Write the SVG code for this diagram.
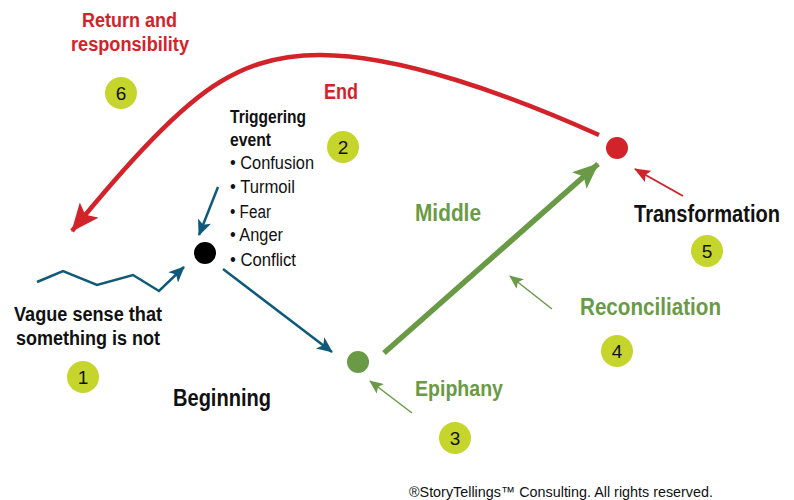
<svg xmlns="http://www.w3.org/2000/svg" width="794" height="500" viewBox="0 0 794 500">
  <style>
    .t { font-family: "Liberation Sans Narrow", "Liberation Sans", Arial, sans-serif; }
    .b { font-weight: bold; }
    .red { fill: #d2232a; }
    .grn { fill: #6a9a45; }
    .blk { fill: #111; }
    .num { font-family: "Liberation Sans Narrow", "Liberation Sans", Arial, sans-serif; font-size: 19px; fill: #111; text-anchor: middle; }
    .badge { fill: #c6d52c; }
    .blue { stroke: #0f5a78; fill: none; stroke-width: 2.5; }
  </style>
  <defs>
    <marker id="hBlue" markerUnits="userSpaceOnUse" viewBox="0 0 16 14" refX="15" refY="7" markerWidth="16" markerHeight="14" orient="auto">
      <path d="M0,0 L16,7 L0,14 L4,7 Z" fill="#0f5a78"/>
    </marker>
    <marker id="hRedBig" markerUnits="userSpaceOnUse" viewBox="0 0 28 24" refX="27" refY="12" markerWidth="28" markerHeight="24" orient="auto">
      <path d="M0,0 L28,12 L0,24 L6,12 Z" fill="#d2232a"/>
    </marker>
    <marker id="hGrnBig" markerUnits="userSpaceOnUse" viewBox="0 0 26 22" refX="25" refY="11" markerWidth="26" markerHeight="22" orient="auto">
      <path d="M0,0 L26,11 L0,22 L6,11 Z" fill="#6a9a45"/>
    </marker>
    <marker id="hGrn" markerUnits="userSpaceOnUse" viewBox="0 0 14 12" refX="13" refY="6" markerWidth="14" markerHeight="12" orient="auto">
      <path d="M0,0 L14,6 L0,12 L3,6 Z" fill="#6a9a45"/>
    </marker>
    <marker id="hRed" markerUnits="userSpaceOnUse" viewBox="0 0 16 13" refX="15" refY="6.5" markerWidth="16" markerHeight="13" orient="auto">
      <path d="M0,0 L16,6.5 L0,13 L3,6.5 Z" fill="#d2232a"/>
    </marker>
  </defs>

  <rect width="794" height="500" fill="#fff"/>

  <!-- connectors -->
  <g id="connectors">
    <path d="M599,135 C510,95 400,55 320,55 C270,55 240,70 220,82 C180,106 130,160 72,231" stroke="#d2232a" stroke-width="4.5" fill="none" marker-end="url(#hRedBig)"/>
    <path d="M37,282 L63,271 L97,285 L133,275 L159,291 L184,267" class="blue" marker-end="url(#hBlue)"/>
    <line x1="218" y1="187" x2="199" y2="235" class="blue" stroke-width="2" marker-end="url(#hBlue)"/>
    <line x1="223" y1="269" x2="332" y2="352" class="blue" marker-end="url(#hBlue)"/>
    <line x1="384" y1="353" x2="598" y2="164" stroke="#6a9a45" stroke-width="5.5" marker-end="url(#hGrnBig)"/>
    <line x1="412" y1="413" x2="370" y2="381" stroke="#6a9a45" stroke-width="1.5" marker-end="url(#hGrn)"/>
    <line x1="552" y1="309" x2="510" y2="276" stroke="#6a9a45" stroke-width="1.5" marker-end="url(#hGrn)"/>
    <line x1="683" y1="196" x2="635" y2="169" stroke="#d2232a" stroke-width="2" marker-end="url(#hRed)"/>
  </g>

  <!-- stage points -->
  <g id="node-trigger"><circle cx="205" cy="253" r="11" fill="#000"/></g>
  <g id="node-epiphany"><circle cx="358" cy="362" r="11" fill="#6a9a45"/></g>
  <g id="node-transformation"><circle cx="617" cy="148" r="11" fill="#d2232a"/></g>

  <!-- labels -->
  <g id="label-return" class="t b red" font-size="20">
    <text x="82" y="27" textLength="95" lengthAdjust="spacingAndGlyphs">Return and</text>
    <text x="71" y="51" textLength="118" lengthAdjust="spacingAndGlyphs">responsibility</text>
  </g>
  <g id="label-end" class="t b red" font-size="22">
    <text x="324" y="99" textLength="34" lengthAdjust="spacingAndGlyphs">End</text>
  </g>
  <g id="label-triggering" class="t blk" font-size="18">
    <text x="230" y="123" class="b" textLength="76" lengthAdjust="spacingAndGlyphs">Triggering</text>
    <text x="230" y="146" class="b" textLength="41" lengthAdjust="spacingAndGlyphs">event</text>
    <text x="230" y="169" textLength="84" lengthAdjust="spacingAndGlyphs">• Confusion</text>
    <text x="230" y="193" textLength="65" lengthAdjust="spacingAndGlyphs">• Turmoil</text>
    <text x="230" y="218" textLength="41" lengthAdjust="spacingAndGlyphs">• Fear</text>
    <text x="230" y="241" textLength="53" lengthAdjust="spacingAndGlyphs">• Anger</text>
    <text x="230" y="266" textLength="66" lengthAdjust="spacingAndGlyphs">• Conflict</text>
  </g>
  <g id="label-vague" class="t b blk" font-size="20">
    <text x="14" y="321" textLength="148" lengthAdjust="spacingAndGlyphs">Vague sense that</text>
    <text x="16" y="345" textLength="144" lengthAdjust="spacingAndGlyphs">something is not</text>
  </g>
  <g id="label-beginning" class="t b blk" font-size="23">
    <text x="173" y="406" textLength="98" lengthAdjust="spacingAndGlyphs">Beginning</text>
  </g>
  <g id="label-middle" class="t b grn" font-size="23">
    <text x="415" y="221" textLength="66" lengthAdjust="spacingAndGlyphs">Middle</text>
  </g>
  <g id="label-epiphany" class="t b grn" font-size="22">
    <text x="415" y="396" textLength="88" lengthAdjust="spacingAndGlyphs">Epiphany</text>
  </g>
  <g id="label-reconciliation" class="t b grn" font-size="23">
    <text x="580" y="315" textLength="141" lengthAdjust="spacingAndGlyphs">Reconciliation</text>
  </g>
  <g id="label-transformation" class="t b blk" font-size="23">
    <text x="634" y="222" textLength="146" lengthAdjust="spacingAndGlyphs">Transformation</text>
  </g>

  <!-- numbered badges -->
  <g id="badge-1"><circle cx="83" cy="377" r="16" class="badge"/><text x="83" y="384" class="num">1</text></g>
  <g id="badge-2"><circle cx="343" cy="147" r="16" class="badge"/><text x="343" y="154" class="num">2</text></g>
  <g id="badge-3"><circle cx="455" cy="438" r="16" class="badge"/><text x="455" y="445" class="num">3</text></g>
  <g id="badge-4"><circle cx="617" cy="351" r="16" class="badge"/><text x="617" y="358" class="num">4</text></g>
  <g id="badge-5"><circle cx="707" cy="251" r="16" class="badge"/><text x="707" y="258" class="num">5</text></g>
  <g id="badge-6"><circle cx="121" cy="93" r="16" class="badge"/><text x="121" y="100" class="num">6</text></g>

  <g id="footer" class="t blk" font-size="15">
    <text x="409" y="497" textLength="304" lengthAdjust="spacingAndGlyphs">®StoryTellings™ Consulting. All rights reserved.</text>
  </g>
</svg>
